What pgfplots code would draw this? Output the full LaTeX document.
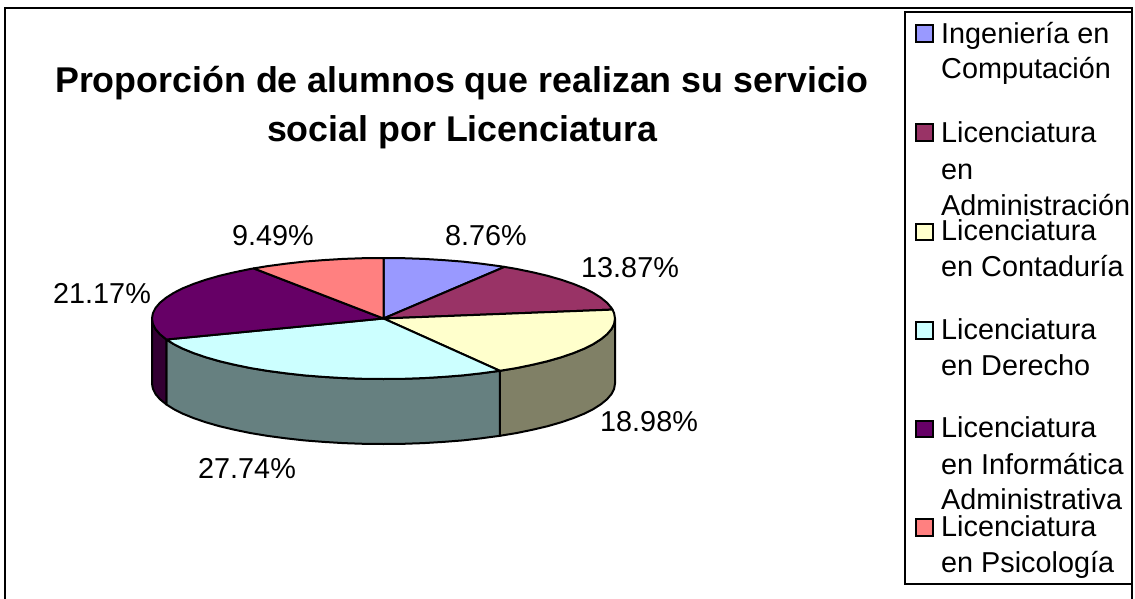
\documentclass[border=0pt]{standalone}
\usepackage{fontspec}
\setmainfont{Liberation Sans}
\usepackage{pgfplots}
\pgfplotsset{compat=1.18}
\definecolor{sIng}{HTML}{9999FF}
\definecolor{sAdm}{HTML}{993366}
\definecolor{sCon}{HTML}{FFFFCC}
\definecolor{sDer}{HTML}{CCFFFF}
\definecolor{sInf}{HTML}{660066}
\definecolor{sPsi}{HTML}{FF8080}
\definecolor{dCon}{HTML}{808066}
\definecolor{dDer}{HTML}{668080}
\definecolor{dInf}{HTML}{330033}
\newcommand{\lab}{\fontsize{28.8}{34}\selectfont}
\newcommand{\tit}{\fontsize{35.8}{42}\selectfont\bfseries}
\pgfplotsset{
  slice/.style={no markers, draw=black, line width=2pt, line join=round, fill=#1},
  swatch/.style={no markers, draw=black, line width=2pt, fill=#1},
}
\begin{document}
\begin{tikzpicture}
\begin{axis}[
  name=ax, hide axis, x=1pt, y=1pt, y dir=reverse,
  xmin=0, xmax=1135, ymin=0, ymax=599,
  clip=false,
]
% side walls, depth 65 px
\addplot[slice=dCon] coordinates {
  (615.0,318.5) (614.1,323.8) (611.5,329.0) (607.1,334.2) (601.0,339.2) (593.3,344.1) (584.0,348.8)
  (573.1,353.2) (560.8,357.4) (547.2,361.3) (532.3,364.8) (516.3,368.1) (499.9,370.8)
  (499.9,435.8) (516.3,433.1) (532.3,429.8) (547.2,426.3) (560.8,422.4) (573.1,418.2) (584.0,413.8)
  (593.3,409.1) (601.0,404.2) (607.1,399.2) (611.5,394.0) (614.1,388.8) (615.0,383.5)
} -- cycle;
\addplot[slice=dDer] coordinates {
  (499.9,370.8) (481.3,373.3) (462.7,375.4) (443.4,376.9) (423.7,378.1) (403.7,378.8) (383.5,379.0)
  (363.3,378.8) (343.3,378.1) (323.6,376.9) (304.3,375.4) (285.7,373.3) (267.7,370.9) (250.7,368.1)
  (234.7,364.8) (219.8,361.3) (206.2,357.4) (193.9,353.2) (183.0,348.8) (173.7,344.1) (166.4,339.5)
  (166.4,404.5) (173.7,409.1) (183.0,413.8) (193.9,418.2) (206.2,422.4) (219.8,426.3) (234.7,429.8)
  (250.7,433.1) (267.7,435.9) (285.7,438.3) (304.3,440.4) (323.6,441.9) (343.3,443.1) (363.3,443.8)
  (383.5,444.0) (403.7,443.8) (423.7,443.1) (443.4,441.9) (462.7,440.4) (481.3,438.3) (499.9,435.8)
} -- cycle;
\addplot[slice=dInf] coordinates {
  (166.4,339.5) (159.9,334.2) (155.5,329.0) (152.9,323.8) (152.0,318.5)
  (152.0,383.5) (152.9,388.8) (155.5,394.0) (159.9,399.2) (166.4,404.5)
} -- cycle;
% top faces
\addplot[slice=sIng] coordinates {
  (383.5,318.5) (383.5,258.0) (403.7,258.2) (423.7,258.9) (443.4,260.1) (462.7,261.6) (481.3,263.7)
  (499.3,266.1) (504.5,266.9)
} -- cycle;
\addplot[slice=sAdm] coordinates {
  (383.5,318.5) (504.5,266.9) (516.3,268.9) (532.3,272.2) (547.2,275.7) (560.8,279.6) (573.1,283.8)
  (584.0,288.2) (593.3,292.9) (601.0,297.8) (607.1,302.8) (611.5,308.0) (612.5,309.6)
} -- cycle;
\addplot[slice=sCon] coordinates {
  (383.5,318.5) (612.5,309.6) (614.1,313.2) (615.0,318.5) (614.1,323.8) (611.5,329.0) (607.1,334.2)
  (601.0,339.2) (593.3,344.1) (584.0,348.8) (573.1,353.2) (560.8,357.4) (547.2,361.3) (532.3,364.8)
  (516.3,368.1) (499.9,370.8)
} -- cycle;
\addplot[slice=sDer] coordinates {
  (383.5,318.5) (499.9,370.8) (481.3,373.3) (462.7,375.4) (443.4,376.9) (423.7,378.1) (403.7,378.8)
  (383.5,379.0) (363.3,378.8) (343.3,378.1) (323.6,376.9) (304.3,375.4) (285.7,373.3) (267.7,370.9)
  (250.7,368.1) (234.7,364.8) (219.8,361.3) (206.2,357.4) (193.9,353.2) (183.0,348.8) (173.7,344.1)
  (166.4,339.5)
} -- cycle;
\addplot[slice=sInf] coordinates {
  (383.5,318.5) (166.4,339.5) (159.9,334.2) (155.5,329.0) (152.9,323.8) (152.0,318.5) (152.9,313.2)
  (155.5,308.0) (159.9,302.8) (166.0,297.8) (173.7,292.9) (183.0,288.2) (193.9,283.8) (206.2,279.6)
  (219.8,275.7) (234.7,272.2) (250.7,268.9) (253.7,268.4)
} -- cycle;
\addplot[slice=sPsi] coordinates {
  (383.5,318.5) (253.7,268.4) (267.7,266.1) (285.7,263.7) (304.3,261.6) (323.6,260.1) (343.3,258.9)
  (363.3,258.2) (383.5,258.0)
} -- cycle;
% legend swatches
\addplot[swatch=sIng] coordinates {(915.5,25.5) (932.5,25.5) (932.5,42) (915.5,42)} -- cycle;
\addplot[swatch=sAdm] coordinates {(915.5,124.5) (932.5,124.5) (932.5,141) (915.5,141)} -- cycle;
\addplot[swatch=sCon] coordinates {(915.5,224) (932.5,224) (932.5,240) (915.5,240)} -- cycle;
\addplot[swatch=sDer] coordinates {(915.5,322) (932.5,322) (932.5,338.5) (915.5,338.5)} -- cycle;
\addplot[swatch=sInf] coordinates {(915.5,420.5) (932.5,420.5) (932.5,437) (915.5,437)} -- cycle;
\addplot[swatch=sPsi] coordinates {(915.5,519) (932.5,519) (932.5,535.5) (915.5,535.5)} -- cycle;
% frames
\draw[black, line width=2.6pt] (axis cs:5,599) -- (axis cs:5,8) -- (axis cs:1132,8) -- (axis cs:1132,599);
\draw[black, line width=2pt] (axis cs:905,12) rectangle (axis cs:1132,584);
% title
\node[anchor=base, inner sep=0pt, font=\tit] at (axis cs:462,93) {Proporción de alumnos que realizan su servicio};
\node[anchor=base, inner sep=0pt, font=\tit] at (axis cs:462,142) {social por Licenciatura};
% data labels
\node[anchor=base west, inner sep=0pt, font=\lab] at (axis cs:445,245) {8.76\%};
\node[anchor=base west, inner sep=0pt, font=\lab] at (axis cs:581,277) {13.87\%};
\node[anchor=base west, inner sep=0pt, font=\lab] at (axis cs:600,431) {18.98\%};
\node[anchor=base west, inner sep=0pt, font=\lab] at (axis cs:198,478) {27.74\%};
\node[anchor=base west, inner sep=0pt, font=\lab] at (axis cs:53,303) {21.17\%};
\node[anchor=base west, inner sep=0pt, font=\lab] at (axis cs:232,245) {9.49\%};
% legend text
\node[anchor=base west, inner sep=0pt, font=\lab] at (axis cs:941,43.3) {Ingeniería en};
\node[anchor=base west, inner sep=0pt, font=\lab] at (axis cs:941,79) {Computación};
\node[anchor=base west, inner sep=0pt, font=\lab] at (axis cs:941,142.7) {Licenciatura};
\node[anchor=base west, inner sep=0pt, font=\lab] at (axis cs:941,179) {en};
\node[anchor=base west, inner sep=0pt, font=\lab] at (axis cs:941,215) {Administración};
\node[anchor=base west, inner sep=0pt, font=\lab] at (axis cs:941,240.7) {Licenciatura};
\node[anchor=base west, inner sep=0pt, font=\lab] at (axis cs:941,276.7) {en Contaduría};
\node[anchor=base west, inner sep=0pt, font=\lab] at (axis cs:941,339.7) {Licenciatura};
\node[anchor=base west, inner sep=0pt, font=\lab] at (axis cs:941,375.7) {en Derecho};
\node[anchor=base west, inner sep=0pt, font=\lab] at (axis cs:941,437.7) {Licenciatura};
\node[anchor=base west, inner sep=0pt, font=\lab] at (axis cs:941,474) {en Informática};
\node[anchor=base west, inner sep=0pt, font=\lab] at (axis cs:941,509.7) {Administrativa};
\node[anchor=base west, inner sep=0pt, font=\lab] at (axis cs:941,536.3) {Licenciatura};
\node[anchor=base west, inner sep=0pt, font=\lab] at (axis cs:941,572.3) {en Psicología};
\end{axis}
\pgfresetboundingbox
\path[use as bounding box] (0,0) rectangle (1135pt,599pt);
\end{tikzpicture}
\end{document}
